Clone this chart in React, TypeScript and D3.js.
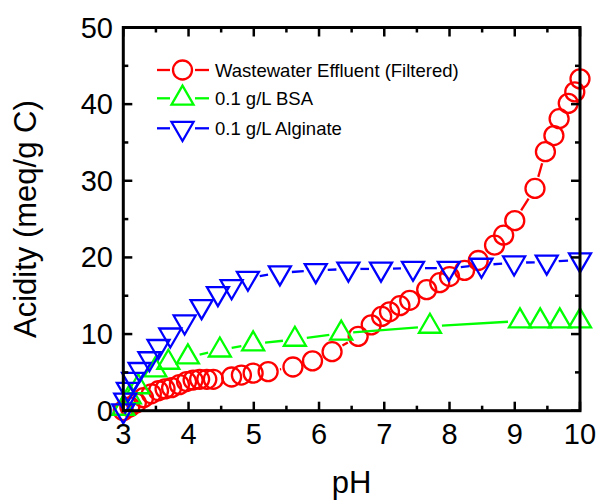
import React from 'react';
import * as d3 from 'd3';

const redPH = [3.0, 3.1, 3.2, 3.31, 3.43, 3.54, 3.64, 3.74, 3.86, 3.97, 4.07, 4.17, 4.28, 4.38, 4.66, 4.81, 4.99, 5.22, 5.6, 5.9, 6.2, 6.6, 6.8, 6.96, 7.08, 7.24, 7.39, 7.65, 7.85, 8.0, 8.23, 8.44, 8.69, 8.83, 9.0, 9.31, 9.47, 9.6, 9.68, 9.82, 9.92, 10.0];
const redAcid = [0, 0.5, 1.0, 1.7, 2.2, 2.6, 2.85, 3.0, 3.4, 3.8, 4.0, 4.1, 4.1, 4.1, 4.4, 4.65, 4.9, 5.1, 5.7, 6.5, 7.7, 9.7, 11.2, 12.3, 12.9, 13.7, 14.4, 15.8, 16.7, 17.5, 18.3, 19.6, 21.6, 22.9, 24.8, 29.0, 33.8, 35.9, 38.1, 40.1, 41.6, 43.3];

const greenPH = [3.0, 3.1, 3.23, 3.49, 3.69, 3.99, 4.48, 4.99, 5.63, 6.34, 7.7, 9.08, 9.39, 9.69, 10.0];
const greenAcid = [0.3, 1.8, 3.1, 5.3, 6.3, 7.0, 7.9, 8.7, 9.3, 10.1, 11.0, 11.7, 11.7, 11.7, 11.7];

const bluePH = [3.0, 3.03, 3.07, 3.15, 3.25, 3.4, 3.54, 3.72, 3.94, 4.2, 4.45, 4.66, 4.91, 5.4, 5.95, 6.45, 6.95, 7.44, 7.99, 8.49, 8.99, 9.49, 10.0];
const blueAcid = [0, 1.4, 2.8, 4.1, 5.4, 6.8, 8.4, 9.9, 11.6, 13.6, 15.3, 16.2, 17.3, 18.0, 18.3, 18.5, 18.5, 18.6, 18.6, 19.0, 19.3, 19.4, 19.7];

const seriesNames = ['Wastewater Effluent (Filtered)', '0.1 g/L BSA', '0.1 g/L Alginate'];
const seriesColors = ['#ff0000', '#00ff00', '#0000ff'];
const seriesShapes = ['circle', 'up', 'down'];

const xMajor = [3, 4, 5, 6, 7, 8, 9, 10];
const xMinor = [3.5, 4.5, 5.5, 6.5, 7.5, 8.5, 9.5];
const yMajor = [0, 10, 20, 30, 40, 50];
const yMinor = [5, 15, 25, 35, 45];

const FONT = '"Liberation Sans", Arial, sans-serif';
const R = 9.5;
const TS = 22; // triangle side
const TH = 19; // triangle height

function Marker({ shape, x, y, color }: { shape: string; x: number; y: number; color: string }) {
  if (shape === 'circle') {
    return <circle cx={x} cy={y} r={R} fill="none" stroke={color} strokeWidth={2.3} />;
  }
  const s = shape === 'up' ? 1 : -1;
  const pts = [
    [x, y - s * (2 * TH) / 3],
    [x + TS / 2, y + s * TH / 3],
    [x - TS / 2, y + s * TH / 3],
  ];
  return <polygon points={pts.map((p) => p.join(',')).join(' ')} fill="none" stroke={color} strokeWidth={2.3} strokeLinejoin="miter" />;
}

function gapSegments(pts: [number, number][], gap: number) {
  const segs: [number, number, number, number][] = [];
  for (let i = 0; i < pts.length - 1; i++) {
    const [x1, y1] = pts[i];
    const [x2, y2] = pts[i + 1];
    const dx = x2 - x1, dy = y2 - y1;
    const d = Math.hypot(dx, dy);
    if (d <= 2 * gap + 1) continue;
    const ux = dx / d, uy = dy / d;
    segs.push([x1 + ux * gap, y1 + uy * gap, x2 - ux * gap, y2 - uy * gap]);
  }
  return segs;
}

export default function App() {
  const W = 600, H = 500;
  const x = d3.scaleLinear().domain([3, 10]).range([123.3, 580]);
  const y = d3.scaleLinear().domain([0, 50]).range([410.7, 27.5]);
  const [x0, x1] = x.range();
  const [yb, yt] = y.range();

  const series = [
    { xs: redPH, ys: redAcid },
    { xs: greenPH, ys: greenAcid },
    { xs: bluePH, ys: blueAcid },
  ];

  const gap = 12;

  return (
    <svg width={W} height={H} style={{ position: 'absolute', left: 0, top: 0, background: '#fff' }} fontFamily={FONT}>
      {/* data */}
      {series.map((s, si) => {
        const pts: [number, number][] = s.xs.map((v, i) => [x(v), y(s.ys[i])]);
        const segs = gapSegments(pts, gap);
        return (
          <g key={si}>
            {segs.map((sg, i) => (
              <line key={i} x1={sg[0]} y1={sg[1]} x2={sg[2]} y2={sg[3]} stroke={seriesColors[si]} strokeWidth={2.3} />
            ))}
            {pts.map((p, i) => (
              <Marker key={i} shape={seriesShapes[si]} x={p[0]} y={p[1]} color={seriesColors[si]} />
            ))}
          </g>
        );
      })}

      {/* frame */}
      <rect x={x0} y={yt} width={x1 - x0} height={yb - yt} fill="none" stroke="#000" strokeWidth={3} />
      {/* x ticks */}
      {xMajor.map((v) => (
        <g key={'xm' + v}>
          <line x1={x(v)} x2={x(v)} y1={yb} y2={yb - 9} stroke="#000" strokeWidth={2.5} />
          <line x1={x(v)} x2={x(v)} y1={yt} y2={yt + 9} stroke="#000" strokeWidth={2.5} />
          <text x={x(v)} y={444} textAnchor="middle" fontSize={29} fill="#000">{v}</text>
        </g>
      ))}
      {xMinor.map((v) => (
        <g key={'xn' + v}>
          <line x1={x(v)} x2={x(v)} y1={yb} y2={yb - 5} stroke="#000" strokeWidth={2.5} />
          <line x1={x(v)} x2={x(v)} y1={yt} y2={yt + 5} stroke="#000" strokeWidth={2.5} />
        </g>
      ))}
      {/* y ticks */}
      {yMajor.map((v) => (
        <g key={'ym' + v}>
          <line x1={x0} x2={x0 + 9} y1={y(v)} y2={y(v)} stroke="#000" strokeWidth={2.5} />
          <line x1={x1} x2={x1 - 9} y1={y(v)} y2={y(v)} stroke="#000" strokeWidth={2.5} />
          <text x={113} y={y(v) + 10} textAnchor="end" fontSize={29} fill="#000">{v}</text>
        </g>
      ))}
      {yMinor.map((v) => (
        <g key={'yn' + v}>
          <line x1={x0} x2={x0 + 5} y1={y(v)} y2={y(v)} stroke="#000" strokeWidth={2.5} />
          <line x1={x1} x2={x1 - 5} y1={y(v)} y2={y(v)} stroke="#000" strokeWidth={2.5} />
        </g>
      ))}

      {/* axis titles */}
      <text x={(x0 + x1) / 2} y={492.7} textAnchor="middle" fontSize={31} fill="#000">pH</text>
      <text transform={`translate(36,${(yb + yt) / 2}) rotate(-90)`} textAnchor="middle" fontSize={31} fill="#000">Acidity (meq/g C)</text>

      {/* legend */}
      {seriesNames.map((name, i) => {
        const ly = [70, 98.3, 128.3][i];
        const c = seriesColors[i];
        return (
          <g key={name}>
            <line x1={157} x2={170} y1={ly} y2={ly} stroke={c} strokeWidth={2.3} />
            <line x1={195} x2={209} y1={ly} y2={ly} stroke={c} strokeWidth={2.3} />
            <Marker shape={seriesShapes[i]} x={182.5} y={ly} color={c} />
            <text x={215} y={ly + 6.5} fontSize={18.5} fill="#000">{name}</text>
          </g>
        );
      })}
    </svg>
  );
}
